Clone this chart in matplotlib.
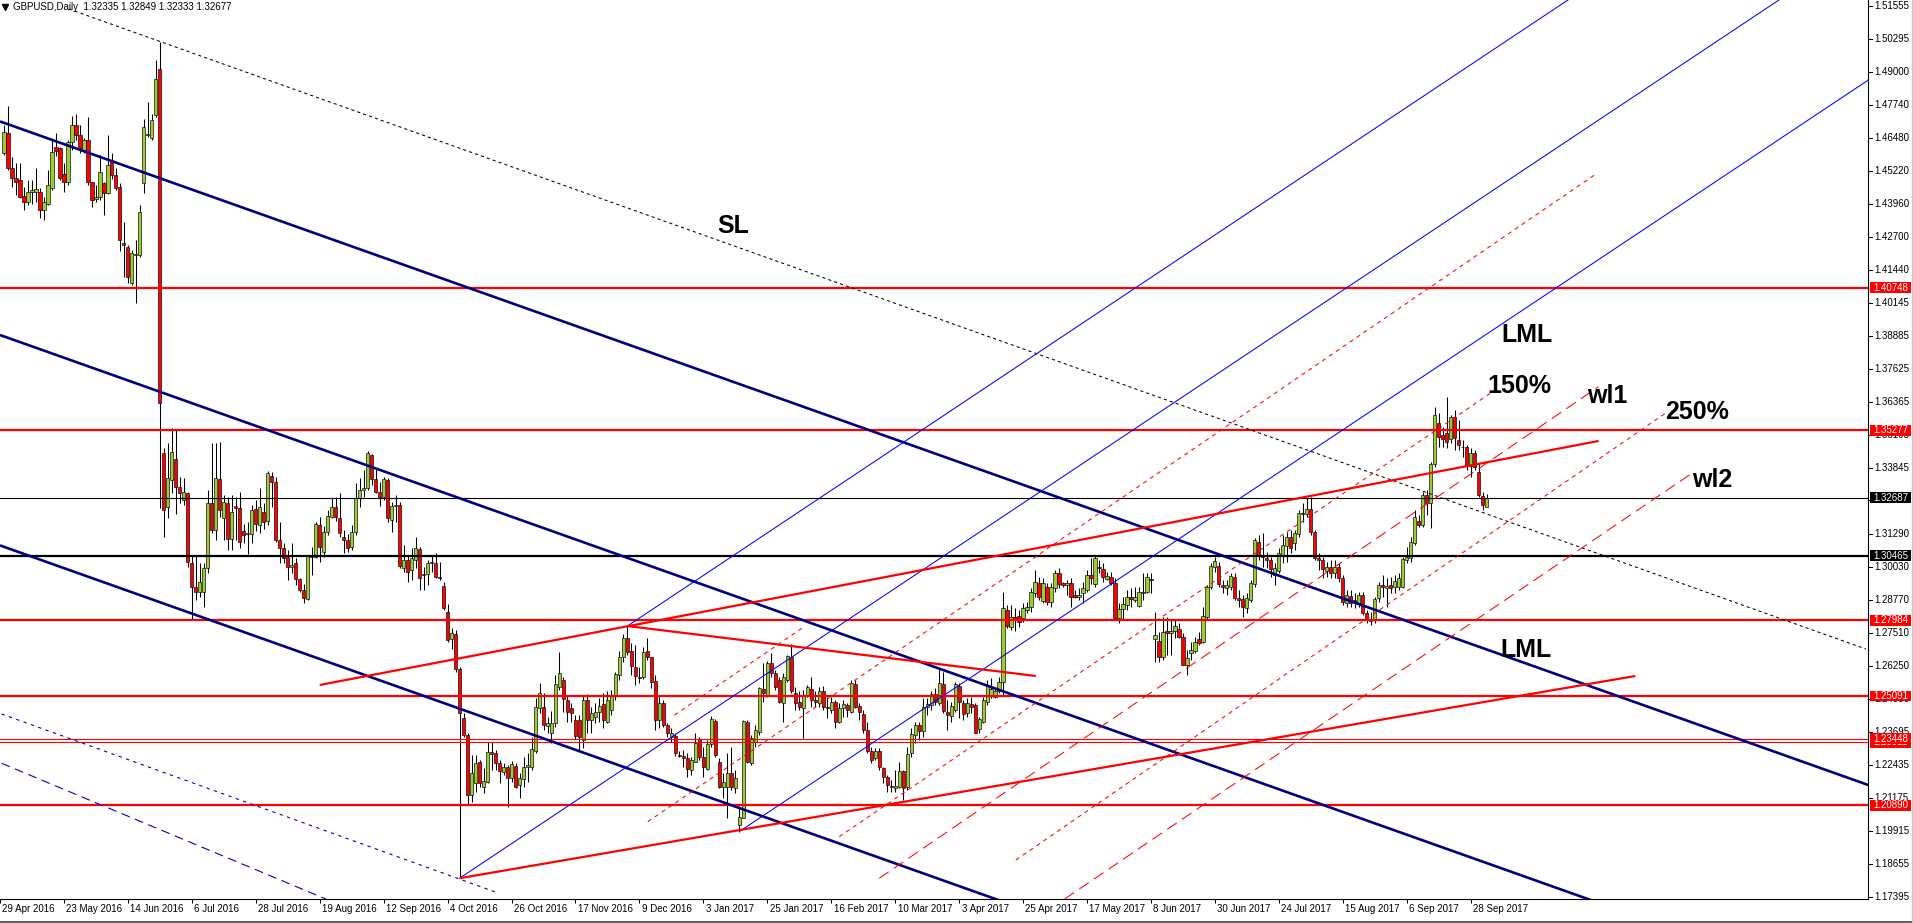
import matplotlib
matplotlib.use('Agg')
import matplotlib.pyplot as plt
from matplotlib.patches import Rectangle
from matplotlib.lines import Line2D
from matplotlib.transforms import Bbox

# ---------------- data (prices x 10000), bars 1..372 ----------------
opens = [
14589,14668,14532,14493,14487,14426,14404,14440,14442,14442,
14372,14395,14455,14612,14608,14512,14480,14634,14698,14659,
14602,14640,14480,14413,14423,14474,14438,14564,14506,14459,
14244,14231,14091,14200,14199,14477,14664,14647,14736,14912,
13439,13234,13337,13416,13311,13260,13288,13017,12928,12909,
12909,12998,13247,13145,13339,13190,13247,13109,13237,13228,
13140,13130,13130,13225,13164,13215,13180,13352,13330,13107,
13075,13043,13004,13017,12956,12917,12880,13049,13043,13164,
13062,13139,13196,13234,13190,13119,13107,13081,13139,13266,
13298,13305,13432,13339,13292,13273,13337,13183,13238,13241,
12998,13032,12991,13032,13071,12975,12976,13022,13017,12966,
12930,12832,12726,12746,12611,12423,12359,12129,12174,12257,
12161,12180,12295,12289,12253,12219,12237,12193,12240,12167,
12189,12238,12238,12299,12462,12468,12394,12366,12407,12545,
12570,12494,12462,12417,12417,12340,12494,12417,12430,12449,
12478,12410,12455,12507,12589,12660,12730,12683,12621,12583,
12580,12683,12657,12568,12417,12481,12398,12353,12356,12283,
12279,12270,12225,12257,12343,12276,12228,12325,12413,12257,
12161,12161,12212,12155,12015,12040,12410,12253,12334,12372,
12534,12513,12634,12596,12570,12481,12570,12660,12522,12487,
12462,12509,12534,12494,12481,12526,12468,12455,12487,12410,
12462,12475,12449,12555,12471,12440,12379,12299,12270,12299,
12232,12200,12164,12155,12161,12223,12159,12289,12359,12398,
12375,12468,12474,12517,12481,12555,12449,12432,12455,12547,
12483,12442,12478,12474,12381,12410,12487,12507,12506,12526,
12564,12839,12775,12810,12815,12807,12839,12849,12902,12941,
12874,12928,12870,12922,12982,12941,12935,12941,12896,12890,
12902,12915,12973,12937,13005,12994,12959,12966,12941,12807,
12841,12858,12890,12877,12854,12902,12909,12956,12727,12721,
12660,12756,12752,12756,12764,12736,12628,12672,12683,12729,
12717,12813,12928,13002,13007,12934,12922,12928,12966,12883,
12880,12845,12877,12938,13101,13049,13037,13030,12973,12989,
13049,13082,13120,13094,13130,13212,13207,13224,13139,13037,
13030,12989,13005,12982,13005,12960,12864,12892,12877,12867,
12896,12826,12800,12800,12883,12934,12921,12934,12928,12928,
12928,13030,13037,13097,13181,13164,13279,13247,13398,13557,
13509,13516,13493,13577,13490,13465,13462,13391,13439,13369,
13276,13234]

highs = [
14700,14771,14576,14551,14551,14461,14487,14487,14532,14455,
14423,14525,14640,14666,14615,14551,14640,14732,14742,14700,
14650,14730,14480,14468,14583,14480,14659,14590,14532,14474,
14327,14238,14219,14257,14391,14723,14787,14742,14947,15017,
13460,13480,13536,13530,13349,13343,13292,13049,13049,13017,
13017,13298,13477,13477,13484,13279,13273,13279,13273,13292,
13170,13177,13241,13260,13305,13250,13372,13369,13349,13177,
13094,13068,13094,13036,12960,12940,13049,13081,13177,13196,
13160,13222,13273,13273,13286,13145,13130,13164,13324,13343,
13375,13449,13436,13378,13330,13349,13343,13254,13279,13254,
13087,13049,13075,13119,13081,13004,13030,13045,13058,13024,
12947,12861,12768,12762,12621,12445,12365,12282,12282,12263,
12231,12333,12333,12301,12263,12250,12245,12260,12250,12212,
12276,12290,12353,12500,12557,12520,12430,12450,12589,12679,
12583,12510,12481,12436,12436,12513,12517,12468,12481,12500,
12519,12526,12532,12602,12680,12745,12777,12711,12704,12621,
12698,12730,12660,12589,12513,12494,12404,12385,12366,12299,
12302,12289,12276,12368,12353,12315,12340,12432,12420,12270,
12212,12289,12315,12225,12085,12417,12417,12359,12398,12545,
12634,12641,12673,12609,12583,12596,12666,12708,12545,12526,
12532,12551,12583,12526,12545,12548,12506,12506,12494,12481,
12494,12481,12570,12570,12481,12455,12410,12315,12308,12308,
12238,12206,12187,12225,12257,12225,12315,12385,12410,12410,
12500,12500,12526,12538,12615,12602,12494,12487,12564,12557,
12494,12500,12506,12481,12430,12506,12570,12577,12545,12583,
12909,12858,12858,12845,12838,12864,12870,12922,12992,12966,
12960,12941,12941,12992,12998,12947,12953,12960,12915,12922,
12947,12992,13039,13046,13030,13017,12985,12986,12960,12864,
12890,12915,12922,12928,12928,12979,12979,12982,12832,12755,
12813,12813,12800,12800,12787,12749,12685,12717,12736,12755,
12851,12934,13017,13043,13024,12953,12953,12979,12979,12915,
12896,12902,12953,13113,13126,13132,13062,13043,13017,13075,
13126,13139,13145,13145,13222,13247,13267,13273,13145,13056,
13043,13024,13030,13030,13017,12973,12915,12915,12902,12909,
12909,12838,12832,12890,12947,12973,12960,12966,12973,12979,
13043,13081,13120,13222,13203,13292,13298,13407,13618,13593,
13541,13656,13586,13605,13567,13490,13471,13458,13452,13401,
13292,13285]

lows = [
14583,14525,14461,14429,14417,14372,14391,14397,14404,14340,
14334,14391,14449,14580,14487,14443,14468,14602,14640,14590,
14590,14468,14385,14404,14410,14353,14433,14490,14449,14215,
14116,14091,14084,14014,14193,14436,14653,14640,14727,13229,
13117,13190,13286,13206,13247,13241,13004,12800,12877,12889,
12851,12979,13132,13107,13196,13107,13068,13068,13107,13078,
13094,13055,13094,13140,13132,13150,13164,13234,13100,13017,
13020,12953,12979,12934,12908,12866,12877,12972,13036,13024,
13043,13126,13190,13180,13119,13058,13062,13068,13126,13234,
13270,13298,13317,13286,13237,13260,13177,13139,13177,12998,
12985,12947,12953,12998,12915,12917,12934,12985,12960,12953,
12838,12717,12687,12602,11810,12353,12091,12103,12142,12161,
12135,12174,12225,12225,12174,12206,12084,12180,12155,12116,
12161,12180,12225,12290,12442,12379,12366,12330,12390,12532,
12449,12410,12410,12343,12302,12308,12366,12366,12404,12410,
12385,12407,12436,12494,12570,12640,12666,12589,12551,12557,
12573,12647,12538,12379,12385,12391,12353,12334,12279,12276,
12238,12200,12206,12257,12263,12197,12225,12315,12276,12155,
12117,12040,12149,12136,11989,12040,12251,12244,12315,12359,
12487,12506,12583,12532,12481,12410,12564,12519,12455,12455,
12347,12506,12468,12468,12468,12455,12423,12442,12385,12404,
12430,12430,12442,12462,12417,12366,12289,12251,12264,12225,
12174,12142,12142,12142,12155,12110,12149,12276,12327,12340,
12353,12436,12455,12474,12474,12442,12379,12410,12449,12423,
12417,12430,12442,12366,12366,12404,12474,12500,12500,12519,
12513,12768,12762,12756,12775,12794,12826,12832,12890,12877,
12864,12858,12851,12909,12922,12928,12896,12851,12883,12877,
12864,12909,12940,12928,12979,12947,12953,12934,12800,12787,
12800,12838,12851,12870,12851,12877,12902,12902,12640,12640,
12647,12666,12666,12730,12730,12628,12589,12647,12672,12704,
12711,12800,12918,12985,12928,12902,12896,12915,12877,12851,
12813,12826,12870,12928,13030,13005,13000,12966,12934,12979,
13017,13024,13056,13069,13120,13177,13196,13126,13030,12992,
12960,12966,12960,12960,12947,12858,12851,12851,12845,12851,
12819,12787,12781,12787,12870,12890,12851,12902,12902,12915,
12922,13017,13024,13088,13155,13158,13203,13152,13388,13465,
13465,13458,13478,13452,13452,13427,13375,13350,13375,13273,
13222,13233]

closes = [
14672,14532,14493,14480,14423,14404,14442,14449,14451,14372,
14404,14468,14596,14598,14493,14480,14634,14698,14659,14608,
14640,14480,14410,14423,14519,14436,14544,14506,14455,14259,
14238,14116,14206,14205,14365,14691,14660,14717,14873,13634,
13222,13343,13445,13311,13286,13292,13024,12928,12909,12947,
12998,13247,13145,13343,13222,13254,13109,13215,13228,13100,
13125,13135,13222,13168,13234,13177,13362,13330,13107,13075,
13036,13004,13012,12956,12917,12883,13049,13043,13170,13081,
13139,13199,13234,13196,13132,13107,13078,13139,13266,13298,
13305,13441,13339,13292,13273,13339,13190,13238,13242,13007,
13030,12985,13036,13078,12963,12972,13020,13017,12966,12963,
12845,12723,12749,12611,12445,12359,12129,12212,12253,12174,
12184,12295,12285,12250,12222,12238,12193,12248,12161,12193,
12238,12245,12304,12465,12519,12398,12404,12407,12555,12598,
12496,12449,12442,12356,12353,12494,12417,12442,12449,12471,
12417,12494,12513,12593,12660,12730,12679,12624,12586,12577,
12679,12657,12564,12417,12481,12398,12366,12368,12289,12279,
12270,12228,12263,12330,12276,12238,12325,12419,12283,12161,
12180,12212,12161,12193,12046,12414,12257,12347,12379,12538,
12519,12637,12596,12545,12487,12583,12662,12526,12481,12468,
12509,12545,12494,12487,12526,12468,12462,12487,12410,12462,
12478,12455,12557,12468,12449,12379,12299,12264,12299,12238,
12200,12168,12159,12164,12223,12155,12286,12363,12398,12375,
12468,12478,12517,12487,12557,12453,12436,12471,12555,12487,
12440,12481,12468,12368,12420,12494,12551,12535,12526,12564,
12845,12777,12813,12800,12794,12845,12851,12909,12945,12890,
12941,12870,12925,12982,12938,12935,12941,12890,12890,12896,
12922,12973,12960,13037,12998,12964,12967,12943,12807,12841,
12861,12890,12879,12890,12906,12909,12964,12954,12743,12660,
12755,12749,12756,12778,12736,12628,12653,12685,12717,12711,
12815,12925,13007,13028,12938,12925,12934,12969,12883,12877,
12849,12883,12941,13107,13049,13043,13030,12994,12998,13056,
13088,13120,13075,13135,13212,13207,13224,13139,13037,13030,
12994,13005,12982,13005,12960,12870,12896,12867,12871,12896,
12826,12800,12798,12879,12934,12928,12930,12921,12951,12960,
13033,13043,13100,13194,13164,13279,13247,13398,13586,13503,
13493,13484,13580,13497,13471,13462,13391,13442,13388,13279,
13241,13268]

date_labels = ['29 Apr 2016', '23 May 2016', '14 Jun 2016', '6 Jul 2016', '28 Jul 2016',
               '19 Aug 2016', '12 Sep 2016', '4 Oct 2016', '26 Oct 2016', '17 Nov 2016',
               '9 Dec 2016', '3 Jan 2017', '25 Jan 2017', '16 Feb 2017', '10 Mar 2017',
               '3 Apr 2017', '25 Apr 2017', '17 May 2017', '8 Jun 2017', '30 Jun 2017',
               '24 Jul 2017', '15 Aug 2017', '6 Sep 2017', '28 Sep 2017']
date_label_bars = [16 * k for k in range(len(date_labels))]

price_ticks = [1.51555, 1.50295, 1.49000, 1.47740, 1.46480, 1.45220, 1.43960, 1.42700,
               1.41440, 1.40145, 1.38885, 1.37625, 1.36365, 1.35105, 1.33845, 1.32585,
               1.31290, 1.30030, 1.28770, 1.27510, 1.26250, 1.24990, 1.23695, 1.22435,
               1.21175, 1.19915, 1.18655, 1.17395]

red_levels_thick = [1.40748, 1.35277, 1.27984, 1.25091, 1.20890]
red_levels_thin = [1.23311, 1.23448]
black_level_thin = 1.32687
black_level_thick = 1.30465

# trend lines: (bar0, price0, bar1, price1)
navy_lines = [(0, 1.47119, 470, 1.21537), (0, 1.38929, 470, 1.13347), (0, 1.30861, 470, 1.05279)]
navy_dotted = (0.4, 1.24397, 123.75, 1.17583)
navy_dashed = (0.4, 1.22506, 81.7, 1.17292)
sl_line = (17.2, 1.51429, 466.9, 1.26889)
fork_lines = [(157, 1.2777, 470, 1.59696), (115, 1.1810, 470, 1.5431), (185, 1.1989, 470, 1.4896)]
red_trend = [(115, 1.1810, 409.2, 1.25854), (80.0, 1.25509, 400.0, 1.34865), (157, 1.2777, 259.2, 1.25854)]
red_dotted = [(162.1, 1.20267, 399.6, 1.45129), (168.75, 1.24358, 201.25, 1.27744),
              (210.0, 1.19692, 372.9, 1.36693), (254.2, 1.18798, 416.7, 1.35926)]
red_dashed = [(220.0, 1.18095, 400.0, 1.36946), (266.4, 1.17303, 423.35, 1.33626)]

annotations = [('SL', 179.4, 1.42840), ('LML', 375.7, 1.38672), ('150%', 372.1, 1.36694),
               ('wl1', 397.1, 1.36321), ('250%', 416.7, 1.35708), ('wl2', 423.35, 1.33113),
               ('LML', 375.4, 1.26582)]

header = 'GBPUSD,Daily  1.32335 1.32849 1.32333 1.32677'

# ---------------- figure ----------------
W, H = 1913, 923
DPI = 100
PLOT_R, PLOT_B = 1868, 899
fig = plt.figure(figsize=(W / DPI, H / DPI), dpi=DPI)
fig.patch.set_facecolor('white')
ax = fig.add_axes([0, (H - PLOT_B) / H, PLOT_R / W, PLOT_B / H])
ax.set_facecolor('white')
ax.set_xlim(0.425, 467.425)
ax.set_ylim(1.17303, 1.51774)

FONT = 'Liberation Sans'

# candles
bars = list(range(1, len(closes) + 1))
o = [v / 10000 for v in opens]
h = [v / 10000 for v in highs]
l = [v / 10000 for v in lows]
c = [v / 10000 for v in closes]
ax.vlines(bars, l, h, colors='black', linewidth=0.75, zorder=2)
bottoms = [min(a, b) for a, b in zip(o, c)]
heights = [max(abs(b - a), 0.00006) for a, b in zip(o, c)]
cols = ['#9acd32' if b >= a else '#ff0000' for a, b in zip(o, c)]
ax.bar(bars, heights, bottom=bottoms, width=0.8, color=cols, edgecolor='black',
       linewidth=0.45, zorder=2.1)

# horizontal levels
for v in red_levels_thick:
    ax.axhline(v, color='#ff0000', lw=1.6, zorder=3)
for v in red_levels_thin:
    ax.axhline(v, color='#ff0000', lw=0.8, zorder=3)
ax.axhline(black_level_thin, color='black', lw=0.8, zorder=3)
ax.axhline(black_level_thick, color='black', lw=1.6, zorder=3)

def seg(t, **kw):
    ax.plot([t[0], t[2]], [t[1], t[3]], solid_capstyle='butt', **kw)

for t in navy_lines:
    seg(t, color='#000080', lw=1.9, zorder=3)
seg(navy_dotted, color='#0000c0', lw=0.8, ls=(0, (3, 4)), zorder=3)
seg(navy_dashed, color='#0000c0', lw=0.8, ls=(0, (8, 5)), zorder=3)
seg(sl_line, color='black', lw=0.75, ls=(0, (3, 3)), zorder=3)
for t in fork_lines:
    seg(t, color='#0000ff', lw=0.75, zorder=3)
for t in red_trend:
    seg(t, color='#ff0000', lw=1.6, zorder=3)
for t in red_dotted:
    seg(t, color='#ff0000', lw=0.75, ls=(0, (4, 4)), zorder=3)
for t in red_dashed:
    seg(t, color='#ff0000', lw=0.75, ls=(0, (11, 6)), zorder=3)

for txt, bx, py in annotations:
    ax.text(bx, py, txt, fontsize=18, fontweight='bold', family=FONT, color='black',
            ha='left', va='baseline', zorder=4)

# axes frame
for s in ['left', 'top']:
    ax.spines[s].set_visible(False)
for s in ['right', 'bottom']:
    ax.spines[s].set_color('black')
    ax.spines[s].set_linewidth(0.8)
ax.set_xticks(date_label_bars)
ax.set_xticklabels([])
ax.set_yticks([])
ax.tick_params(axis='x', length=3, width=0.75, direction='out', color='black')

xtr = ax.get_xaxis_transform()
for b, txt in zip(date_label_bars, date_labels):
    ax.text(b + 0.6, -10.5 / PLOT_B, txt, transform=xtr, ha='left', va='center',
            fontsize=7, family=FONT, color='black', clip_on=False)

ytr = ax.get_yaxis_transform()
half = 5.3 / 2608
box_list = [(v, '#ff0000') for v in red_levels_thin] + [(v, '#ff0000') for v in red_levels_thick] \
    + [(black_level_thin, 'black'), (black_level_thick, 'black')]
box_vals = [bv for bv, _ in box_list]

fig_w_px = W
def ydisp(v):
    return ax.transData.transform((1.0, v))[1]

def clip_outside_boxes(txt_artist, v, others):
    # keep only the part of a text that is not covered by a price box
    near = [bv for bv in others if abs(bv - v) < 12 / 2608 and bv != v]
    if not near:
        return
    lo, hi = 0.0, H
    for bv in near:
        if bv > v:
            hi = min(hi, ydisp(bv - half))
        else:
            lo = max(lo, ydisp(bv + half))
    txt_artist.set_clip_box(Bbox([[0, lo], [fig_w_px, hi]]))
    txt_artist.set_clip_on(True)

for v in price_ticks:
    ax.plot([1.0, 1.0 + 4 / PLOT_R], [v, v], transform=ytr, color='black', lw=0.75,
            clip_on=False, zorder=3)
    t = ax.text(1.0 + 6 / PLOT_R, v, f'{v:.5f}', transform=ytr, ha='left', va='center',
                fontsize=7, family=FONT, color='black', clip_on=False, zorder=3)
    clip_outside_boxes(t, v, box_vals)

def price_box(v, face, covering):
    ax.add_patch(Rectangle((1.0 + 2 / PLOT_R, v - half), 41 / PLOT_R, 2 * half,
                           transform=ytr, facecolor=face, edgecolor='none',
                           clip_on=False, zorder=5))
    t = ax.text(1.0 + 5 / PLOT_R, v, f'{v:.5f}', transform=ytr, ha='left', va='center',
                fontsize=7, family=FONT, color='white', clip_on=False, zorder=6)
    clip_outside_boxes(t, v, covering)

for i, (v, face) in enumerate(box_list):
    later = [bv for bv, _ in box_list[i + 1:]]
    price_box(v, face, later)

# header
ax.text(13 / PLOT_R, 1 - 7 / PLOT_B, header, transform=ax.transAxes, ha='left',
        va='center', fontsize=7, family=FONT, color='black', zorder=6)
ax.plot([4.5 / PLOT_R], [1 - 6.5 / PLOT_B], marker='v', markersize=4, color='black',
        transform=ax.transAxes, clip_on=False, zorder=6)

# window border
fig.add_artist(Line2D([0, 1], [1 - 921.5 / H] * 2, transform=fig.transFigure,
                      color='#404040', lw=1.2))
fig.add_artist(Line2D([1 - 1.5 / W] * 2, [1 - 921.5 / H, 1], transform=fig.transFigure,
                      color='#c8c8c8', lw=1.0))

fig.savefig('out.png', dpi=DPI, facecolor='white')
